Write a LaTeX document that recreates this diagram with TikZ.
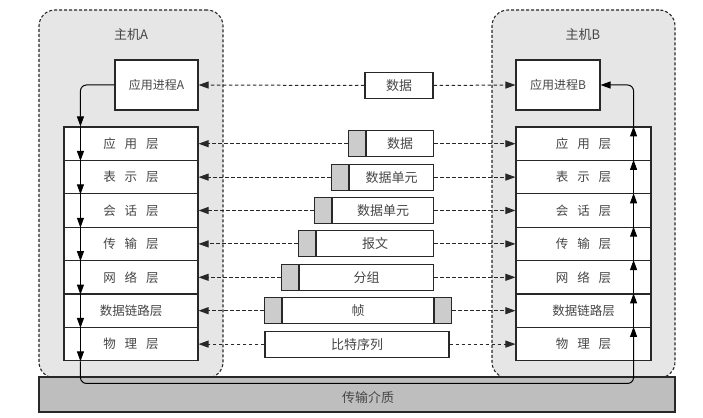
\documentclass[tikz,border=0pt]{standalone}
\usepackage{fontspec}
\setmainfont{Liberation Serif}
\newfontfamily\cjk{Noto Sans CJK SC}
\newfontfamily\cjksp[WordSpace=3.2]{Noto Sans CJK SC}
\usetikzlibrary{arrows.meta,calc}
\definecolor{hostfill}{RGB}{230,230,230}
\definecolor{barfill}{RGB}{190,190,190}
\definecolor{hdrfill}{RGB}{204,204,204}
\definecolor{linec}{RGB}{40,40,40}
\definecolor{txtc}{RGB}{70,70,70}
\begin{document}
\begin{tikzpicture}[x=1pt,y=-1pt,
  host/.style={draw=linec, dashed, dash pattern=on 3pt off 2pt, line width=1.1pt, fill=hostfill, rounded corners=16pt, inner sep=0pt},
  hostlabel/.style={font=\fontsize{13}{15}\cjk, text=txtc},
  layerbox/.style={draw=linec, line width=1.1pt, fill=white, minimum height=33.4pt, inner sep=0pt, font=\fontsize{12.5}{15}\cjksp, text=txtc},
  procbox/.style={draw=linec, line width=1.1pt, fill=white, minimum height=50pt, inner sep=0pt, font=\fontsize{12}{14}\cjk, text=txtc},
  pdu/.style={draw=linec, line width=1.1pt, fill=white, minimum height=26pt, inner sep=0pt, font=\fontsize{13}{15}\cjk, text=txtc},
  hdr/.style={draw=linec, line width=1.1pt, fill=hdrfill, minimum height=26pt, minimum width=17pt, inner sep=0pt},
  medium/.style={draw=linec, line width=1.1pt, fill=barfill, inner sep=0pt},
  arr/.style={-{Triangle[length=10pt,width=7pt]}, line width=1pt, draw=black},
  darr/.style={-{Triangle[length=10pt,width=7pt]}, line width=1pt, draw=linec, dashed, dash pattern=on 3.5pt off 2.5pt},
]
\useasboundingbox (0,0) rectangle (703,417);
% hosts
\node[host, minimum width=184pt, minimum height=368pt] (hostA) at (131,194) {};
\node[host, minimum width=183pt, minimum height=368pt] (hostB) at (583.5,194) {};
\node[hostlabel] (hostAlbl) at (131,35) {主机A};
\node[hostlabel] (hostBlbl) at (583,35) {主机B};
% medium
\node[medium, minimum width=636pt, minimum height=35pt] (med) at (357,394.5) {};
\node[font=\fontsize{13}{15}\cjk, text=txtc] (medlbl) at (368,398) {传输介质};
% process boxes
\node[procbox, minimum width=83pt] (pA) at (156.5,85) {应用进程A};
\node[procbox, minimum width=84pt] (pB) at (558,85) {应用进程B};
% layers
\foreach \i/\t in {1/应 用 层,2/表 示 层,3/会 话 层,4/传 输 层,5/网 络 层,6/数据链路层,7/物 理 层}{
  \node[layerbox, minimum width=134pt] (L\i A) at (131,{127+33.4*(\i-0.5)}) {\t};
  \node[layerbox, minimum width=135pt] (L\i B) at (583.5,{127+33.4*(\i-0.5)}) {\t};
}
% top data
\node[pdu, minimum width=68pt] (dtop) at (399,85.5) {数据};
\draw[darr] (dtop.west) -- (pA.east);
\draw[darr] (dtop.east) -- (pB.west);
% PDUs
\foreach \i/\l/\t in {1/366/数据,2/349/数据单元,3/332/数据单元,4/316/报文,5/299/分组}{
  \node[pdu, anchor=west, minimum width={433pt-\l pt}] (D\i) at (\l,{127+33.4*(\i-0.5)}) {\t};
  \node[hdr, anchor=east] (H\i) at (D\i.west) {};
  \draw[darr] (H\i.west) -- (L\i A.east);
  \draw[darr] (D\i.east) -- (L\i B.west);
}
\node[pdu, anchor=west, minimum width=151pt] (D6) at (282,{127+33.4*5.5}) {帧};
\node[hdr, anchor=east] (H6) at (D6.west) {};
\node[hdr, anchor=west] (T6) at (D6.east) {};
\draw[darr] (H6.west) -- (L6A.east);
\draw[darr] (T6.east) -- (L6B.west);
\node[pdu, minimum width=184pt] (D7) at (357,{127+33.4*6.5}) {比特序列};
\draw[darr] (D7.west) -- (L7A.east);
\draw[darr] (D7.east) -- (L7B.west);
% vertical flow A
\draw[arr, rounded corners=6pt] (pA.west) -| ($(L1A.north west)+(17,0)$);
\foreach \i in {1,...,7}{
  \draw[arr] ($(L\i A.north west)+(17,0)$) -- ($(L\i A.south west)+(17,0)$);
}
% bottom path
\draw[arr, rounded corners=6pt] ($(L7A.south west)+(17,0)$) |- ($(med.north)+(0,7)$) -| ($(L7B.north east)+(-18,0)$);
% vertical flow B
\foreach \i/\j in {7/6,6/5,5/4,4/3,3/2,2/1}{
  \draw[arr] ($(L\i B.north east)+(-18,0)$) -- ($(L\j B.north east)+(-18,0)$);
}
\draw[arr, rounded corners=6pt] ($(L1B.north east)+(-18,0)$) |- (pB.east);
\end{tikzpicture}
\end{document}
